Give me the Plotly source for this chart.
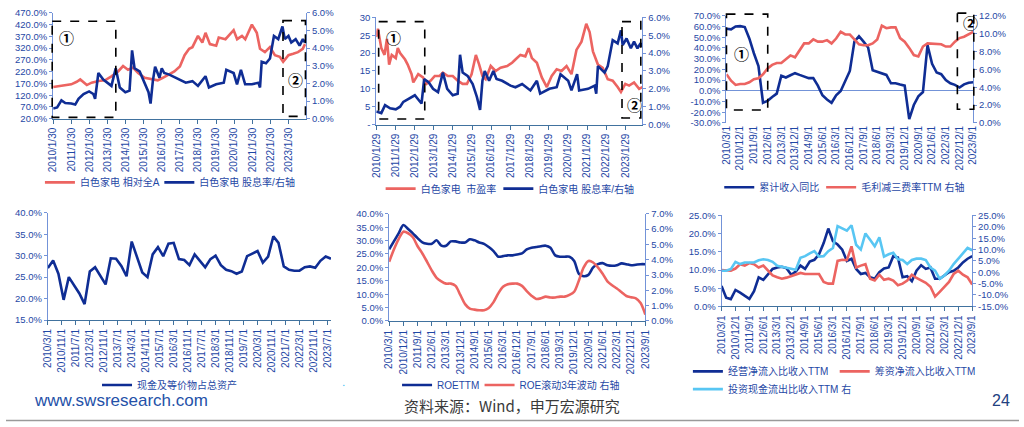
import plotly.graph_objects as go
import pandas as pd

W, H = 1024, 427
NAVY = "#0f2d94"
SALMON = "#ec6461"
SKY = "#58c6f3"
TICK = "#1f48a5"
YLINE = "#7393d8"
XLINE = "#41729e"
FONT = "Liberation Sans, Arial, Noto Sans CJK SC, sans-serif"

# ---------- panel 1: 白色家电 相对全A / 股息率 (weekly, sampled) ----------
p1_rel_dates = ["2010-01-30", "2010-07-28", "2011-01-30", "2011-05-20", "2011-07-30", "2011-12-10",
                "2012-03-15", "2012-07-30", "2012-12-10", "2013-04-20", "2013-09-01", "2013-12-10",
                "2014-03-20", "2014-06-28", "2014-10-10", "2015-02-20", "2015-07-01", "2015-11-10",
                "2016-02-20", "2016-06-01", "2016-10-10", "2017-01-30", "2017-05-05", "2017-08-05",
                "2017-10-10", "2018-01-30", "2018-04-28", "2018-07-01", "2018-09-28", "2019-02-01",
                "2019-03-25", "2019-08-08", "2020-01-20", "2020-03-30", "2020-07-06", "2020-09-10",
                "2021-01-22", "2021-05-01", "2021-07-05", "2021-10-12", "2022-01-22", "2022-05-01",
                "2022-08-08", "2022-10-15", "2023-01-30", "2023-05-05", "2023-08-10", "2023-11-15",
                "2023-12-30"]
p1_rel = [155, 160, 166, 177, 187, 163, 173, 180, 183, 200, 221, 244, 228, 237, 214, 194, 187, 183,
          194, 207, 221, 242, 290, 317, 324, 372, 344, 385, 337, 330, 365, 358, 396, 358, 372, 358,
          420, 385, 317, 303, 324, 290, 283, 262, 290, 296, 303, 317, 337]

p1_dy_dates = ["2010-01-30", "2010-04-20", "2010-07-15", "2010-10-01", "2011-01-30", "2011-04-20",
               "2011-06-25", "2011-10-05", "2012-01-25", "2012-04-20", "2012-05-25", "2012-07-30",
               "2012-11-05", "2013-01-25", "2013-04-20", "2013-07-15", "2013-10-05", "2014-01-25",
               "2014-04-20", "2014-06-10", "2014-07-30", "2014-11-10", "2015-02-15", "2015-05-08",
               "2015-06-18", "2015-08-03", "2015-09-18", "2015-12-15", "2016-01-30", "2016-03-20",
               "2016-07-01", "2017-01-30", "2017-05-28", "2017-10-10", "2018-01-30", "2018-07-01",
               "2018-09-08", "2019-02-01", "2019-07-05", "2019-08-25", "2020-01-20", "2020-03-28",
               "2020-06-15", "2020-09-08", "2021-01-22", "2021-06-03", "2021-07-05", "2021-08-08",
               "2021-11-03", "2022-01-22", "2022-04-12", "2022-07-08", "2022-10-01", "2022-11-17",
               "2023-01-30", "2023-03-28", "2023-06-24", "2023-09-12", "2023-11-17", "2023-12-30"]
p1_dy = [0.58, 0.64, 1.04, 0.89, 0.86, 0.80, 1.13, 1.40, 1.55, 1.40, 1.13, 2.59, 2.22, 2.04, 1.86,
         2.86, 1.77, 1.50, 1.59, 3.87, 2.86, 2.68, 2.04, 1.50, 0.86, 2.13, 2.95, 2.32, 2.86, 2.59,
         2.50, 2.22, 2.04, 2.13, 1.86, 2.41, 1.77, 1.95, 2.04, 2.77, 2.59, 1.95, 2.77, 1.95, 1.95,
         2.04, 1.77, 3.23, 3.14, 3.41, 4.69, 4.51, 5.23, 4.51, 4.69, 4.32, 4.51, 4.14, 4.51, 4.32]

# ---------- panel 2: 市盈率 / 股息率 ----------
p2_pe_dates = ["2010-01-29", "2010-03-01", "2010-05-05", "2010-07-05", "2010-08-20", "2010-10-01",
               "2010-11-20", "2011-02-05", "2011-03-15", "2011-04-28", "2011-08-01", "2011-09-20",
               "2011-12-03", "2012-01-05", "2012-04-08", "2012-07-08", "2012-09-12", "2012-12-03",
               "2013-02-17", "2013-05-20", "2013-07-22", "2013-10-24", "2014-01-26", "2014-04-30",
               "2014-08-03", "2014-10-24", "2015-01-20", "2015-04-12", "2015-06-14", "2015-08-15",
               "2015-10-16", "2016-01-20", "2016-04-22", "2016-07-26", "2016-11-28", "2017-03-03",
               "2017-05-05", "2017-08-08", "2017-11-10", "2018-01-12", "2018-03-15", "2018-06-18",
               "2018-09-20", "2018-12-25", "2019-03-28", "2019-07-01", "2019-10-01", "2020-01-05",
               "2020-04-08", "2020-07-12", "2020-10-16", "2021-01-15", "2021-03-20", "2021-05-22",
               "2021-08-25", "2021-11-25", "2022-02-28", "2022-06-03", "2022-09-05", "2022-11-07",
               "2023-01-29", "2023-04-12", "2023-07-15", "2023-10-20", "2023-12-20"]
p2_pe = [24.5, 26.8, 21.4, 19.5, 24.0, 16.8, 19.5, 18.6, 21.4, 20.0, 18.2, 16.8, 14.1, 11.8, 14.1,
         13.2, 11.4, 12.3, 13.6, 13.6, 14.5, 13.6, 13.6, 12.3, 11.4, 11.4, 14.1, 19.5, 16.8, 13.6,
         12.7, 16.4, 15.0, 15.9, 16.4, 17.3, 18.2, 19.5, 19.1, 21.4, 18.6, 17.3, 13.2, 10.5, 13.6,
         15.5, 15.0, 16.4, 14.1, 20.9, 23.2, 28.2, 25.9, 20.5, 16.8, 15.9, 12.7, 12.3, 10.5, 9.1,
         11.4, 10.9, 11.8, 10.0, 10.5]

p2_dy_dates = ["2010-01-29", "2010-05-05", "2010-07-15", "2010-10-20", "2011-02-05", "2011-04-28",
               "2011-06-28", "2011-10-01", "2012-02-03", "2012-04-20", "2012-06-10", "2012-07-30",
               "2012-10-26", "2013-01-15", "2013-04-20", "2013-07-22", "2013-10-12", "2014-01-26",
               "2014-04-30", "2014-06-14", "2014-08-03", "2014-11-05", "2015-02-10", "2015-05-01",
               "2015-07-01", "2015-08-15", "2015-09-28", "2015-12-20", "2016-03-10", "2016-05-10",
               "2016-08-25", "2017-02-01", "2017-05-05", "2017-09-10", "2018-02-15", "2018-06-18",
               "2018-08-20", "2019-02-12", "2019-07-01", "2019-09-12", "2020-02-05", "2020-04-08",
               "2020-07-24", "2020-09-01", "2021-02-18", "2021-06-24", "2021-07-24", "2021-08-25",
               "2021-12-30", "2022-02-28", "2022-06-03", "2022-09-05", "2022-11-07", "2022-12-10",
               "2023-02-22", "2023-05-15", "2023-07-15", "2023-09-18", "2023-11-18", "2023-12-20"]
p2_dy = [0.73, 0.64, 1.09, 0.91, 0.85, 1.00, 1.27, 1.45, 1.64, 1.36, 1.18, 2.55, 2.36, 2.00, 1.82,
         2.91, 2.00, 1.64, 1.73, 3.91, 2.91, 2.73, 2.27, 1.55, 0.82, 2.45, 3.00, 2.45, 3.00, 2.55,
         2.45, 2.18, 2.09, 2.27, 1.91, 2.45, 1.73, 2.00, 2.09, 2.82, 2.45, 1.91, 2.82, 1.91, 2.00,
         2.18, 1.73, 3.27, 2.91, 3.27, 4.73, 4.55, 5.27, 4.45, 4.82, 4.27, 4.64, 4.27, 4.55, 4.36]

# ---------- quarterly panels ----------
quarters = [f"{y}/{m}/1" for y in range(2010, 2024) for m in (3, 6, 9, 12)][:55]
quarter_dates = [f"{y}-{m:02d}-01" for y in range(2010, 2024) for m in (3, 6, 9, 12)][:55]

p3_rev_yoy = [57.9, 57.3, 60.0, 60.3, 59.4, 48.8, 35.0, 23.0, -11.2, -9.4, -5.8, -2.7,
              14.0, 12.4, 14.5, 16.4, 14.8, 13.0, 11.8, 11.8, 4.8, -4.2, -8.2, -11.2,
              -4.2, -0.3, 9.4, 18.5, 45.8, 50.9, 45.8, 40.3, 19.1, 17.9, 16.7, 14.8,
              7.0, 7.0, 5.8, 4.8, -26.4, -13.3, -5.2, -1.2, 42.7, 25.2, 17.0, 15.5,
              10.0, 7.0, 5.5, 3.0, 6.0, 7.5, 7.9]
p3_margin = [5.45, 4.73, 4.25, 4.36, 4.36, 4.55, 4.90, 5.00, 5.45, 6.10, 6.50, 6.70,
             6.70, 7.10, 7.56, 7.35, 8.20, 8.90, 8.90, 9.35, 9.10, 9.10, 9.27, 8.90,
             9.45, 10.2, 9.90, 9.90, 9.35, 8.80, 8.70, 8.70, 8.90, 9.35, 10.9, 10.6,
             10.7, 10.7, 9.50, 9.10, 8.40, 7.60, 7.45, 8.55, 8.90, 8.85, 8.80, 8.80,
             8.55, 8.55, 9.10, 9.50, 9.65, 9.90, 10.2]

p4_cash = [27.1, 28.9, 25.8, 19.7, 25.0, 23.0, 21.2, 18.7, 26.3, 27.3, 25.2, 23.3,
           29.4, 29.3, 27.6, 25.2, 33.3, 29.5, 26.1, 25.0, 30.3, 32.0, 29.9, 32.8,
           33.0, 29.2, 29.0, 27.8, 30.3, 28.8, 27.3, 29.2, 30.0, 27.8, 26.7, 26.4,
           25.8, 26.3, 29.9, 30.5, 31.1, 28.4, 29.8, 34.5, 33.0, 27.5, 26.7, 26.5,
           26.5, 27.3, 27.5, 27.2, 28.8, 29.8, 29.3]
p4_ticks = pd.date_range("2010-03-01", periods=21, freq="8MS")

p5_roe = [26.7, 29.7, 32.7, 35.8, 34.3, 32.7, 30.9, 29.3, 28.8, 28.8, 30.1, 28.1,
          28.1, 29.7, 29.7, 29.3, 29.3, 30.5, 30.1, 29.3, 28.8, 27.6, 26.1, 24.0,
          24.2, 24.5, 24.5, 24.8, 25.2, 26.7, 27.3, 27.6, 27.9, 28.1, 27.3, 24.5,
          24.0, 24.0, 24.0, 22.4, 17.6, 16.7, 17.2, 20.0, 21.2, 21.6, 20.8, 20.6,
          20.8, 21.5, 21.2, 20.8, 21.0, 21.2, 21.2]
p5_vol = [3.86, 4.67, 5.35, 5.83, 5.73, 5.47, 4.88, 4.41, 3.86, 3.29, 2.82, 2.59,
          2.44, 2.44, 2.29, 1.70, 1.10, 0.81, 0.74, 0.70, 0.70, 0.85, 1.23, 1.80,
          2.23, 2.40, 2.44, 2.44, 2.29, 1.95, 1.65, 1.44, 1.48, 1.59, 1.53, 1.53,
          1.59, 1.59, 1.70, 1.91, 2.65, 3.50, 3.92, 3.82, 3.50, 3.08, 2.59, 2.33,
          2.12, 1.87, 1.63, 1.55, 1.48, 1.17, 0.42]

p6_op = [5.6, 2.4, 2.0, 4.5, 3.75, 2.95, 2.05, 4.2, 8.0, 7.3, 8.9, 10.3,
         10.7, 10.9, 10.5, 8.7, 9.6, 11.2, 10.3, 12.3, 12.8, 14.3, 17.4, 21.4,
         17.9, 17.0, 15.6, 12.5, 13.1, 10.3, 8.9, 9.2, 8.0, 7.6, 9.4, 10.4,
         10.7, 13.8, 13.4, 8.0, 8.3, 6.9, 9.8, 11.3, 10.3, 10.7, 7.6, 7.6,
         8.5, 9.4, 9.8, 10.7, 12.1, 13.1, 13.8]
p6_fin = [10.0, 10.0, 9.8, 10.4, 11.6, 11.2, 11.9, 11.6, 10.7, 11.2, 9.8, 8.5,
          8.0, 7.6, 7.9, 8.3, 8.9, 9.2, 8.9, 8.9, 8.7, 8.9, 6.7, 6.25,
          6.25, 12.5, 12.8, 12.7, 16.5, 10.7, 11.2, 11.6, 7.6, 7.1, 8.7, 7.3,
          7.6, 7.1, 5.8, 6.25, 7.1, 8.7, 7.8, 7.1, 6.5, 5.4, 2.7, 4.0,
          5.4, 6.7, 8.9, 9.8, 8.7, 8.0, 6.0]
p6_inv = [0.7, 0.7, 1.4, 4.6, 3.6, 4.3, 4.3, 4.3, 5.3, 5.7, 5.4, 4.6,
          2.9, 2.4, 2.1, 1.4, 1.1, 6.4, 7.1, 8.3, 9.3, 6.9, 7.1, 9.3,
          10.7, 20.3, 19.3, 18.3, 20.7, 12.1, 10.0, 17.1, 14.3, 11.4, 15.4, 6.9,
          7.9, 8.6, 5.7, 5.4, 3.6, 5.4, 6.0, 6.0, 5.4, 2.1, 0.7, -2.9,
          -1.4, 0.7, 3.6, 6.0, 8.6, 10.7, 9.7]


def xd(a, b):
    return [a / W, b / W]


def yd(top, bottom):
    return [1 - bottom / H, 1 - top / H]


def line(x, y, name, color, xa, ya, legend, width=2.6, shape="linear"):
    return go.Scatter(x=x, y=y, name=name, mode="lines", xaxis=xa, yaxis=ya, legend=legend,
                      line=dict(color=color, width=width, shape=shape, smoothing=0.8))


fig = go.Figure()
fig.add_trace(line(p1_rel_dates, p1_rel, "白色家电 相对全A", SALMON, "x", "y", "legend"))
fig.add_trace(line(p1_dy_dates, p1_dy, "白色家电 股息率/右轴", NAVY, "x", "y2", "legend2"))
fig.add_trace(line(p2_pe_dates, p2_pe, "白色家电  市盈率", SALMON, "x2", "y3", "legend3"))
fig.add_trace(line(p2_dy_dates, p2_dy, "白色家电 股息率/右轴", NAVY, "x2", "y4", "legend4"))
fig.add_trace(line(quarters, p3_rev_yoy, "累计收入同比", NAVY, "x3", "y5", "legend5"))
fig.add_trace(line(quarters, p3_margin, "毛利减三费率TTM 右轴", SALMON, "x3", "y6", "legend6"))
fig.add_trace(line(quarter_dates, p4_cash, "现金及等价物占总资产", NAVY, "x4", "y7", "legend7"))
fig.add_trace(line(quarters, p5_roe, "ROETTM", NAVY, "x5", "y8", "legend8", shape="spline"))
fig.add_trace(line(quarters, p5_vol, "ROE滚动3年波动 右轴", SALMON, "x5", "y9", "legend9", shape="spline"))
fig.add_trace(line(quarters, p6_op, "经营净流入比收入TTM", NAVY, "x6", "y10", "legend10"))
fig.add_trace(line(quarters, p6_fin, "筹资净流入比收入TTM", SALMON, "x6", "y10", "legend11"))
fig.add_trace(line(quarters, p6_inv, "投资现金流出比收入TTM 右", SKY, "x6", "y11", "legend12"))

tickfont = dict(family=FONT, size=9.5, color=TICK)
xtickfont = dict(family=FONT, size=10, color=TICK)


def xaxis(domain, anchor, **kw):
    d = dict(domain=domain, anchor=anchor, showline=True, linecolor=XLINE, linewidth=1,
             ticks="outside", ticklen=4, tickcolor=XLINE, tickangle=-90, tickfont=xtickfont,
             showgrid=False, zeroline=False, ticklabeloverflow="allow")
    d.update(kw)
    return d


def yaxis(domain, anchor, rng, dtick, side="left", overlaying=None, **kw):
    vals = [rng[0] + i * dtick for i in range(round((rng[1] - rng[0]) / dtick) + 1)]
    d = dict(domain=domain, anchor=anchor, range=rng, tickmode="array", tickvals=vals,
             ticktext=[f"{v:.1f}%" for v in vals],
             side=side, showline=True, linecolor=YLINE, linewidth=1, ticks="outside", ticklen=3,
             tickcolor=YLINE, tickfont=tickfont,
             showgrid=False, zeroline=False, ticklabeloverflow="allow")
    if overlaying:
        d["overlaying"] = overlaying
    d.update(kw)
    return d


y1 = [f"{y}-01-30" for y in range(2010, 2024)]
y2 = [f"{y}-01-29" for y in range(2010, 2024)]

fig.update_layout(
    xaxis=xaxis(xd(47.7, 303.3), "y", type="date", range=["2010-01-30", "2024-01-20"],
                tickvals=y1, ticktext=[f"{y}/1/30" for y in range(2010, 2024)]),
    yaxis=yaxis(yd(7, 115.7), "x", [20, 470], 50),
    yaxis2=yaxis(yd(7, 115.7), "x", [0, 6], 1, side="right", overlaying="y"),
    xaxis2=xaxis(xd(374.3, 643.3), "y3", type="date", range=["2010-01-29", "2023-12-21"],
                 tickvals=y2, ticktext=[f"{y}/1/29" for y in range(2010, 2024)]),
    yaxis3=yaxis(yd(11.7, 121.7), "x2", [0, 30], 5,
                 ticktext=["-", "5", "10", "15", "20", "25", "30"]),
    yaxis4=yaxis(yd(11.7, 121.7), "x2", [0, 6], 1, side="right", overlaying="y3"),
    xaxis3=xaxis(xd(728.3, 977.7), "y5", type="category", range=[0, 54],
                 tickmode="array", tickvals=quarters[::3], ticktext=quarters[::3], showline=False,
                 ticks=""),
    yaxis5=yaxis(yd(10, 120), "x3", [-30, 70], 10, zeroline=True, zerolinecolor=YLINE,
                 zerolinewidth=1),
    yaxis6=yaxis(yd(10, 120), "x3", [0, 12], 2, side="right", overlaying="y5"),
    xaxis4=xaxis(xd(42.3, 328.5), "y7", type="date", range=["2010-03-01", "2023-09-01"],
                 tickvals=[d.strftime("%Y-%m-%d") for d in p4_ticks],
                 ticktext=[f"{d.year}/{d.month}/1" for d in p4_ticks]),
    yaxis7=yaxis(yd(212.3, 322.3), "x4", [15, 40], 5),
    xaxis5=xaxis(xd(387.3, 646.3), "y8", type="category", range=[0, 54],
                 tickmode="array", tickvals=quarters[::3], ticktext=quarters[::3]),
    yaxis8=yaxis(yd(213.3, 323.3), "x5", [0, 40], 5),
    yaxis9=yaxis(yd(213.3, 323.3), "x5", [0, 7], 1, side="right", overlaying="y8"),
    xaxis6=xaxis(xd(723.3, 976.7), "y10", type="category", range=[0, 54],
                 tickmode="array", tickvals=quarters[::3], ticktext=quarters[::3]),
    yaxis10=yaxis(yd(215, 308.3), "x6", [0, 25], 5),
    yaxis11=yaxis(yd(215, 308.3), "x6", [-15, 25], 5, side="right", overlaying="y10"),
)


def legend(text_x, yc):
    # one entry per legend, placed where the reference draws each key
    return dict(orientation="h", x=(text_x - 44) / W, y=1 - yc / H, xanchor="left",
                yanchor="middle", bgcolor="rgba(0,0,0,0)",
                font=dict(family=FONT, size=10, color=TICK), itemwidth=30)


legend_spots = [(78.3, 181), (199, 181), (422.7, 187.5), (541.7, 187.5), (765, 186),
                (868, 186), (136, 389), (439.3, 389), (522.7, 389), (733.3, 375),
                (881.7, 375), (733.3, 393.3)]
fig.update_layout({("legend" if i == 0 else f"legend{i + 1}"): legend(tx, ty)
                   for i, (tx, ty) in enumerate(legend_spots)})

# dashed highlight boxes and circled markers
boxes = [(46.7, 15.7, 111, 114.3), (280, 15, 302.7, 113.3),
         (376.7, 16, 423.3, 116), (622.7, 16, 641.7, 115),
         (728.3, 8.3, 770, 106.7), (961.7, 7.3, 978.3, 106)]
shapes = [dict(type="rect", xref="paper", yref="paper", x0=a / W, x1=c / W, y0=1 - b / H, y1=1 - d / H,
               line=dict(color="black", width=1.6, dash="dash")) for a, b, c, d in boxes]
shapes.append(dict(type="line", xref="paper", yref="paper", x0=0, x1=1, y0=1 - 425.5 / H, y1=1 - 425.5 / H,
                   line=dict(color="#9a9a9a", width=1.5)))


def note(text, x, y, size, color, family=FONT, weight="normal"):
    return dict(text=text, x=x / W, y=1 - y / H, xref="paper", yref="paper", xanchor="center",
                yanchor="middle", showarrow=False,
                font=dict(family=family, size=size, color=color, weight=weight))


marks = [("①", 62.7, 35), ("②", 295, 78), ("①", 393.3, 35), ("②", 637.7, 104),
         ("①", 745, 51.7), ("②", 976.7, 20)]
annotations = [note(t, a - 2, b - 3, 15, "black", "Noto Sans CJK SC", "bold") for t, a, b in marks]
annotations += [
    note("www.swsresearch.com", 116, 405, 17, "#2451a8"),
    note("资料来源：Wind，申万宏源研究", 511, 410, 15, "#3a3a3a", "Noto Sans CJK SC"),
    note("24", 1006, 405, 16, "#22407f"),
    note("▪", 341.7, 389, 5, "#4fc3f7"),
]

fig.update_layout(width=W, height=H, autosize=False, margin=dict(l=0, r=0, t=0, b=0),
                  paper_bgcolor="white", plot_bgcolor="white", font=dict(family=FONT),
                  shapes=shapes, annotations=annotations, showlegend=True, hovermode=False)

# the page's default body margin would push the fixed-size figure off the window
fig.write_html("out.html", config={"displayModeBar": False},
               post_script="document.body.style.margin='0px';")
